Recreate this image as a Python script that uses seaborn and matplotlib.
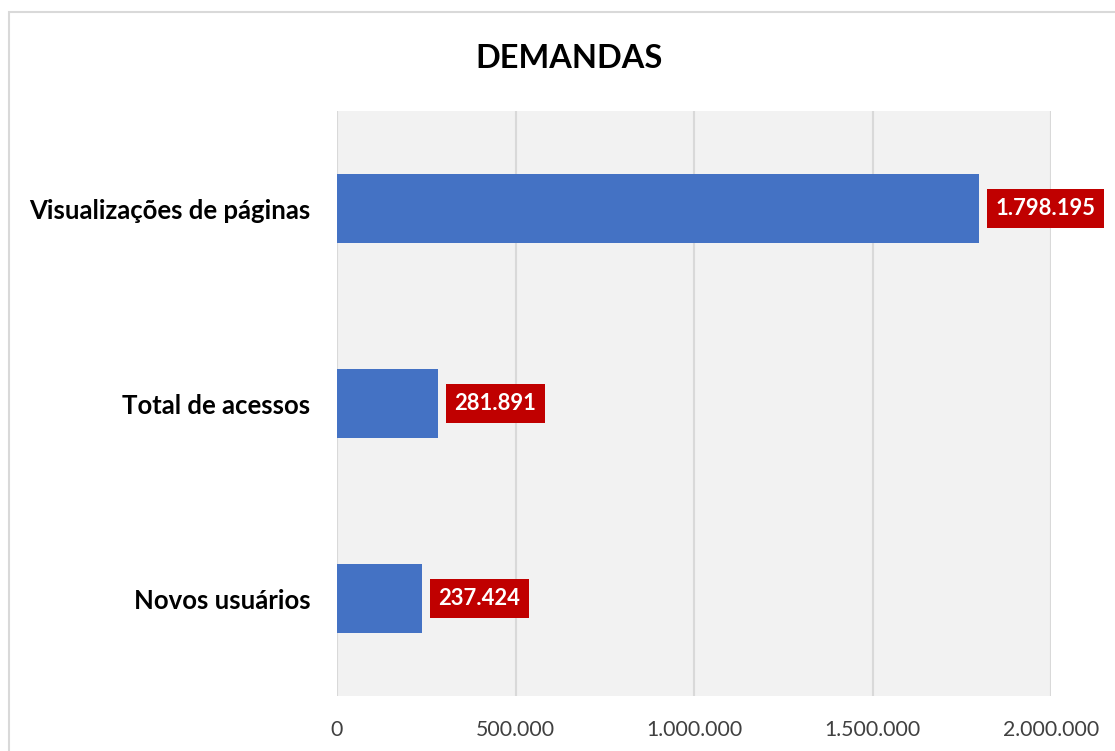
import matplotlib
matplotlib.use("Agg")
import matplotlib.pyplot as plt
import seaborn as sns
import pandas as pd
from matplotlib.patches import Rectangle

categories = ["Visualizações de páginas", "Total de acessos", "Novos usuários"]
values = [1798195, 281891, 237424]
value_labels = ["1.798.195", "281.891", "237.424"]
xticks = [0, 500000, 1000000, 1500000, 2000000]
xtick_labels = ["0", "500.000", "1.000.000", "1.500.000", "2.000.000"]

sns.set_theme(style="white")
plt.rcParams['font.family'] = ['Lato', 'DejaVu Sans']

df = pd.DataFrame({"cat": categories, "val": values})

fig = plt.figure(figsize=(11.15, 7.51), dpi=100)
fig.patch.set_facecolor("white")
fig.patches.append(Rectangle((9/1115, -0.1), 1.2, 1 - 12/751 + 0.1, transform=fig.transFigure,
                             fill=False, edgecolor="#D9D9D9", linewidth=1.5, zorder=0))

ax = fig.add_axes([337/1115, 1 - 696/751, (1051 - 337)/1115, (696 - 111)/751])
ax.set_facecolor("#F2F2F2")
sns.barplot(data=df, x="val", y="cat", orient="h", color="#4472C4", width=0.355,
            saturation=1, linewidth=0, edgecolor="none", ax=ax, zorder=3)

ax.set_xlim(0, 2000000)
ax.set_ylim(2.5, -0.5)
ax.set_xticks(xticks)
ax.set_xticklabels(xtick_labels, fontsize=15.3, color="#404040")
ax.set_yticklabels(categories, fontsize=18.5, fontweight="bold", color="black")
ax.tick_params(axis="x", length=0, pad=17)
ax.tick_params(axis="y", length=0, pad=19)
ax.set_xlabel("")
ax.set_ylabel("")
for s in ax.spines.values():
    s.set_visible(False)
for x in xticks:
    ax.axvline(x, color="#D9D9D9", linewidth=1.5, zorder=1)

for i, (v, lab) in enumerate(zip(values, value_labels)):
    ax.annotate(lab, xy=(v, i), xytext=(12, 0), textcoords="offset points",
                ha="left", va="center", fontsize=15.8, fontweight="bold", color="white",
                bbox=dict(boxstyle="square,pad=0.4", facecolor="#C00000", edgecolor="none"),
                zorder=5)

fig.text(569/1115, 1 - 58/751, "DEMANDAS", ha="center", va="center", fontsize=23.4,
         fontweight="bold", color="black")

fig.savefig("out.png", dpi=100)
